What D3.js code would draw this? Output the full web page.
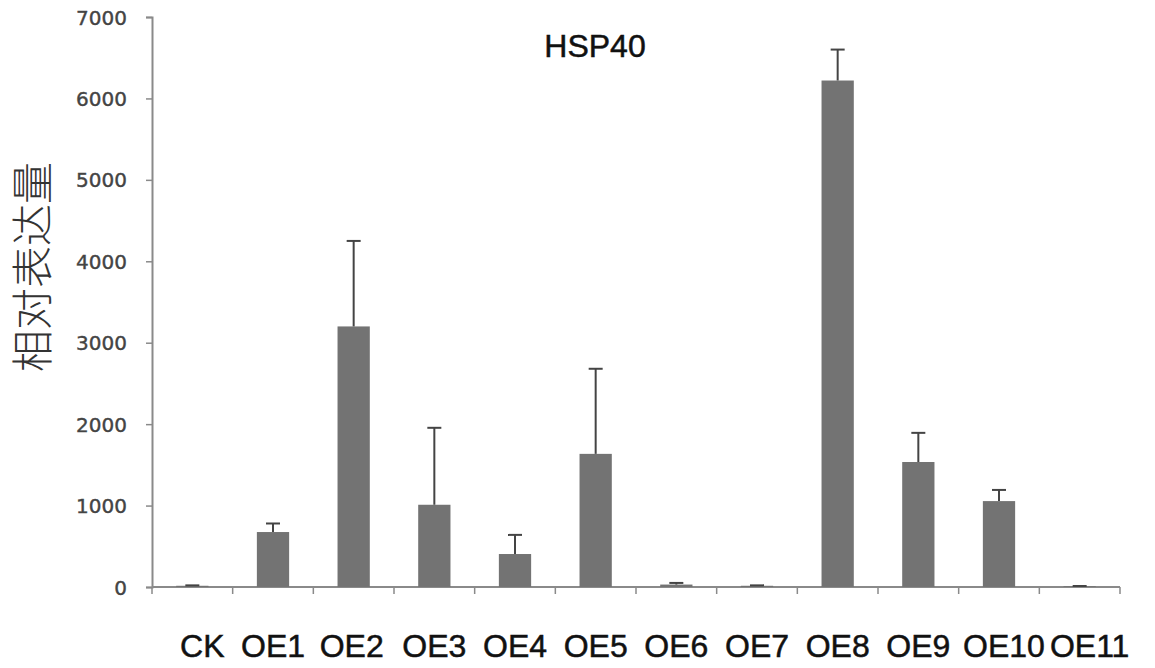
<!DOCTYPE html>
<html><head><meta charset="utf-8">
<script src="https://cdn.jsdelivr.net/npm/d3@7"></script>
<style>body{margin:0;background:#fff}svg{display:block}</style>
</head><body>
<svg id="c" width="1155" height="668"></svg>
<script>
const categories = ["CK","OE1","OE2","OE3","OE4","OE5","OE6","OE7","OE8","OE9","OE10","OE11"];
const values = [15, 675, 3200, 1010, 405, 1635, 30, 15, 6220, 1535, 1055, 10];
const errorTops = [20, 780, 4250, 1955, 640, 2680, 50, 20, 6600, 1893, 1192, 12];
const yTicks = [0,1000,2000,3000,4000,5000,6000,7000];
const title = "HSP40";
const yLabel = "相对表达量";

const svg = d3.select("#c");
const x = d3.scaleBand().domain(categories).range([152,1120]).paddingInner(0.6).paddingOuter(0.3);
const xb = d3.scaleBand().domain(categories).range([152,1120]);
const y = d3.scaleLinear().domain([0,7000]).range([587,17]);
const axisColor = "#8a8a8a";

// y axis
const ya = svg.append("g").attr("transform","translate(152,0)")
  .call(d3.axisLeft(y).tickValues(yTicks).tickSize(6).tickPadding(19).tickFormat(d3.format("d")));
ya.select(".domain").attr("stroke",axisColor).attr("stroke-width",2);
ya.selectAll(".tick line").attr("stroke",axisColor).attr("stroke-width",1.5);
ya.selectAll(".tick text").attr("font-family","DejaVu Sans").attr("font-size",20).attr("fill","#444").attr("dy","0.35em")
  .attr("stroke","#444").attr("stroke-width",0.4);

// x axis line and boundary ticks
svg.append("line").attr("x1",152).attr("x2",1120).attr("y1",y(0)).attr("y2",y(0)).attr("stroke",axisColor).attr("stroke-width",2);
const bounds = categories.map(c=>xb(c)).concat([xb.range()[1]]);
svg.selectAll(".xt").data(bounds).join("line").attr("class","xt")
  .attr("x1",d=>d).attr("x2",d=>d).attr("y1",y(0)).attr("y2",y(0)+7)
  .attr("stroke",axisColor).attr("stroke-width",1.5);

// bars
svg.selectAll(".bar").data(categories).join("rect").attr("class","bar")
  .attr("x",c=>x(c)).attr("width",x.bandwidth())
  .attr("y",(c,i)=>y(values[i])).attr("height",(c,i)=>y(0)-y(values[i]))
  .attr("fill","#737373");

// error bars
const eg = svg.selectAll(".err").data(categories).join("g").attr("class","err");
eg.append("line").attr("x1",c=>x(c)+x.bandwidth()/2).attr("x2",c=>x(c)+x.bandwidth()/2)
  .attr("y1",(c,i)=>y(values[i])).attr("y2",(c,i)=>y(errorTops[i]))
  .attr("stroke","#444").attr("stroke-width",2);
eg.append("line").attr("x1",c=>x(c)+x.bandwidth()/2-7).attr("x2",c=>x(c)+x.bandwidth()/2+7)
  .attr("y1",(c,i)=>y(errorTops[i])).attr("y2",(c,i)=>y(errorTops[i]))
  .attr("stroke","#444").attr("stroke-width",2);

// x labels
const xOff = {CK:10, OE2:-2, OE10:5, OE11:10};
svg.selectAll(".xl").data(categories).join("text").attr("class","xl")
  .attr("x",c=>xb(c)+xb.bandwidth()/2+(xOff[c]||0))
  .attr("y",657).attr("text-anchor","middle")
  .attr("font-family","Liberation Sans, Arial").attr("font-size",32).attr("fill","#111")
  .attr("stroke","#111").attr("stroke-width",0.5)
  .text(c=>c);

// title
svg.append("text").attr("x",595).attr("y",57).attr("text-anchor","middle")
  .attr("font-family","Liberation Sans, Arial").attr("font-size",32).attr("fill","#111")
  .attr("stroke","#111").attr("stroke-width",0.5).text(title);

// y label
svg.append("text").attr("transform","translate(48,267) rotate(-90)").attr("text-anchor","middle")
  .attr("font-family","Noto Sans CJK SC").attr("font-weight",300).attr("font-size",42).attr("fill","#333").text(yLabel);
</script>
</body></html>
